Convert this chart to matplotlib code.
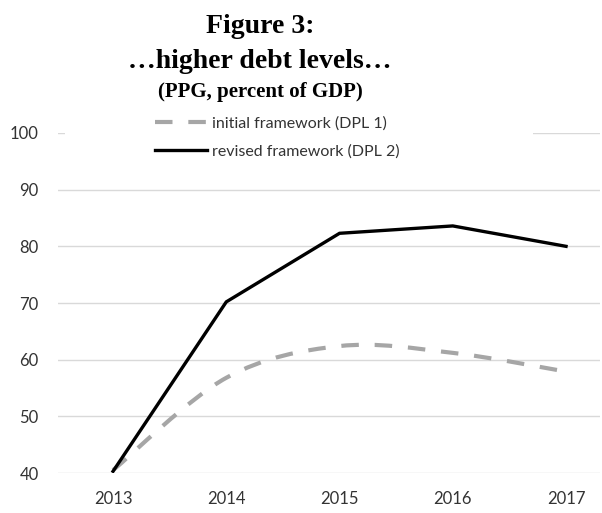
import matplotlib
matplotlib.use('Agg')
import matplotlib.pyplot as plt
from matplotlib.path import Path
from matplotlib.patches import PathPatch, Rectangle
from matplotlib.lines import Line2D
import numpy as np

years = ['2013', '2014', '2015', '2016', '2017']
initial = [40.5, 56.8, 62.4, 61.2, 57.9]
revised = [40.3, 70.2, 82.3, 83.6, 80.0]
yticks = [40, 50, 60, 70, 80, 90, 100]

labels = ['initial framework (DPL 1)', 'revised framework (DPL 2)']


def smooth_path(x, y):
    # excel-style smoothed line: catmull-rom segments as cubic beziers
    pts = np.column_stack([x, y]).astype(float)
    verts = [pts[0]]
    codes = [Path.MOVETO]
    n = len(pts)
    for i in range(n - 1):
        p0 = pts[max(i - 1, 0)]
        p1 = pts[i]
        p2 = pts[i + 1]
        p3 = pts[min(i + 2, n - 1)]
        verts += [p1 + (p2 - p0) / 6.0, p2 - (p3 - p1) / 6.0, p2]
        codes += [Path.CURVE4] * 3
    return Path(verts, codes)


def main():
    fig = plt.figure(figsize=(6.02, 5.13), dpi=100)
    W, H = 602.0, 513.0
    ax = fig.add_axes([58 / W, 1 - 473 / H, 542 / W, 340 / H])

    x = np.arange(len(years))
    ax.set_xlim(-0.486, 4.30)
    ax.set_ylim(40, 100)
    ax.set_yticks(yticks)
    ax.set_xticks(x)
    ax.set_xticklabels(years)
    for s in ax.spines.values():
        s.set_visible(False)
    ax.tick_params(length=0, labelsize=12, colors='#333333')
    ax.tick_params(axis='x', pad=13)
    ax.tick_params(axis='y', pad=14)
    for lab in ax.get_xticklabels() + ax.get_yticklabels():
        lab.set_fontfamily('Lato')
    ax.grid(axis='y', color='#d9d9d9', lw=1)
    ax.set_axisbelow(True)

    # white legend area over the top gridline
    ax.add_patch(Rectangle((65 / W, 1 - 160 / H), (533 - 65) / W, 50 / H,
                           transform=fig.transFigure, facecolor='white',
                           edgecolor='none', zorder=1.5))

    gray = '#a6a6a6'
    dash = (0, (4.2, 3.8))
    patch = PathPatch(smooth_path(x, initial), facecolor='none', edgecolor=gray,
                      lw=3.0, linestyle=dash, capstyle='butt', zorder=3)
    ax.add_patch(patch)
    ax.plot(x, revised, color='black', lw=2.4, zorder=4, solid_joinstyle='miter')

    handles = [Line2D([], [], color=gray, lw=3.0, linestyle=dash),
               Line2D([], [], color='black', lw=2.4)]
    fig.legend(handles, labels, loc='upper left',
               bbox_to_anchor=(155 / W, 1 - 116 / H), frameon=False,
               prop={'family': 'Lato', 'size': 11.5}, labelcolor='#333333',
               handlelength=3.25, handletextpad=0.35, labelspacing=0.85,
               borderpad=0, borderaxespad=0)

    cx = 260 / W
    fig.text(cx, 1 - 33 / H, 'Figure 3:', ha='center', va='baseline',
             family='Liberation Serif', weight='bold', size=20)
    fig.text(cx, 1 - 68 / H, '\u2026higher debt levels\u2026', ha='center',
             va='baseline', family='Liberation Serif', weight='bold', size=20)
    fig.text(cx, 1 - 97 / H, '(PPG, percent of GDP)', ha='center',
             va='baseline', family='Liberation Serif', weight='bold', size=15)

    fig.savefig('out.png', dpi=100)


if __name__ == '__main__':
    main()
